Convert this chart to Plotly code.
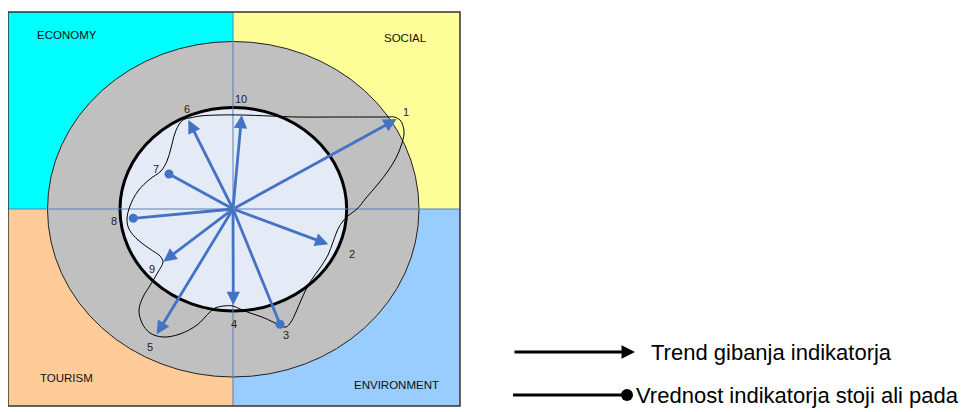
import plotly.graph_objects as go

# ---- data (diagram units: 1 unit = 1 px, origin at the diagram centre, y up) ----
indicator_ids = ["1", "2", "3", "4", "5", "6", "7", "8", "9", "10"]
indicator_x = [163.7, 95.3, 47.0, 0.3, -76.3, -44.7, -64.0, -99.7, -69.7, 8.7]
indicator_y = [90.0, -35.3, -115.3, -96.0, -125.3, 89.0, 35.0, -9.3, -52.7, 94.0]
# "arrow" = trend of indicator, "dot" = value stagnates or falls
indicator_kind = ["arrow", "arrow", "dot", "arrow", "arrow", "arrow", "dot", "dot", "arrow", "arrow"]
label_x = [172.7, 118.7, 53.0, 1.3, -83.0, -46.3, -77.3, -119.0, -80.7, 8.0]
label_y = [97.3, -45.0, -126.0, -115.3, -137.7, 99.7, 39.7, -12.0, -60.3, 110.0]

sectors = ["ECONOMY", "SOCIAL", "TOURISM", "ENVIRONMENT"]
sector_x = [-166.3, 172.7, -166.3, 163.7]
sector_y = [174.3, 170.7, -169.3, -176.0]
sector_colors = ["#00FFFF", "#FFFF99", "#FFCC99", "#99CCFF"]

# traced outline of the indicator envelope (pixel positions in the picture)
curve_px = [190, 200, 220, 241, 270, 297, 340, 387, 394, 400, 403, 404, 401, 396, 388,
            378, 366, 357, 349, 343, 338, 333, 328, 320, 310, 302, 296, 291, 286, 281,
            273, 262, 250, 240, 233, 224, 215, 209, 197, 180, 163, 150, 142, 139, 143,
            151, 158, 163, 160, 150, 138, 129, 127, 130, 138, 150, 161, 167, 171, 175,
            180, 185]
curve_py = [118, 116, 115, 115, 116, 117, 117, 117, 117, 120, 126, 134, 146, 158, 171,
            184, 198, 209, 215, 221, 229, 242, 255, 268, 282, 298, 312, 322, 327, 326,
            322, 317, 313, 309, 306, 306, 308, 313, 325, 334, 337, 333, 323, 310, 297,
            284, 272, 262, 256, 249, 240, 229, 219, 206, 191, 179, 171, 161, 148, 133,
            123, 119]

legend_texts = ["Trend gibanja indikatorja", "Vrednost indikatorja stoji ali pada"]

CX, CY = 233, 209
OFF = 8          # page body margin
W, H = 974 - OFF, 412 - OFF
curve_x = [p - CX for p in curve_px] + [curve_px[0] - CX]
curve_y = [CY - p for p in curve_py] + [CY - curve_py[0]]

ARROW_BLUE = "#4472C4"
FONT = "Liberation Sans, Arial, sans-serif"

fig = go.Figure()

# envelope curve
fig.add_trace(go.Scatter(x=curve_x, y=curve_y, mode="lines",
                         line=dict(color="black", width=1, shape="spline", smoothing=1.0),
                         hoverinfo="skip", showlegend=False))

# dot indicators (line + dot)
dot_x = [xi for xi, k in zip(indicator_x, indicator_kind) if k == "dot"]
dot_y = [yi for yi, k in zip(indicator_y, indicator_kind) if k == "dot"]
for xi, yi in zip(dot_x, dot_y):
    fig.add_trace(go.Scatter(x=[0, xi], y=[0, yi], mode="lines",
                             line=dict(color=ARROW_BLUE, width=2.8),
                             hoverinfo="skip", showlegend=False))
fig.add_trace(go.Scatter(x=dot_x, y=dot_y, mode="markers",
                         marker=dict(size=9, color=ARROW_BLUE, opacity=1, line=dict(width=0)),
                         hoverinfo="skip", showlegend=False))

annotations = []
for xi, yi, kind in zip(indicator_x, indicator_y, indicator_kind):
    if kind == "arrow":
        annotations.append(dict(x=xi, y=yi, ax=0, ay=0, xref="x", yref="y",
                                axref="x", ayref="y", text="", showarrow=True,
                                arrowhead=2, arrowsize=0.95, arrowwidth=2.8,
                                arrowcolor=ARROW_BLUE, standoff=0, startstandoff=0))

for t, lx, ly in zip(indicator_ids, label_x, label_y):
    annotations.append(dict(x=lx, y=ly, text=t, showarrow=False,
                            font=dict(family=FONT, size=11, color="#222")))

for s, sx, sy in zip(sectors, sector_x, sector_y):
    annotations.append(dict(x=sx, y=sy, text=s, showarrow=False,
                            font=dict(family=FONT, size=11.5, color="#111")))

# legend
annotations.append(dict(x=402, y=-143, ax=280, ay=-143, xref="x", yref="y",
                        axref="x", ayref="y", text="", showarrow=True,
                        arrowhead=2, arrowsize=0.9, arrowwidth=3,
                        arrowcolor="black", standoff=0))
annotations.append(dict(x=416, y=-143, text=legend_texts[0], showarrow=False,
                        xanchor="left", font=dict(family=FONT, size=22, color="black")))
annotations.append(dict(x=401, y=-186, text=legend_texts[1], showarrow=False,
                        xanchor="left", font=dict(family=FONT, size=22, color="black")))
fig.add_trace(go.Scatter(x=[280, 394], y=[-186, -186], mode="lines",
                         line=dict(color="black", width=3),
                         hoverinfo="skip", showlegend=False))
fig.add_trace(go.Scatter(x=[394], y=[-186], mode="markers",
                         marker=dict(size=12, color="black", opacity=1, line=dict(width=0)),
                         hoverinfo="skip", showlegend=False))

# background shapes
L, R, T, B = -225, 227, 197, -197
shapes = [
    dict(type="rect", x0=L, x1=0, y0=0, y1=T, fillcolor=sector_colors[0], line_width=0, layer="below"),
    dict(type="rect", x0=0, x1=R, y0=0, y1=T, fillcolor=sector_colors[1], line_width=0, layer="below"),
    dict(type="rect", x0=L, x1=0, y0=B, y1=0, fillcolor=sector_colors[2], line_width=0, layer="below"),
    dict(type="rect", x0=0, x1=R, y0=B, y1=0, fillcolor=sector_colors[3], line_width=0, layer="below"),
    dict(type="circle", x0=-185.5, x1=186, y0=-168, y1=167.5, fillcolor="#C0C0C0",
         line=dict(color="#222", width=1), layer="below"),
    dict(type="circle", x0=-113, x1=113.7, y0=-102, y1=101.5, fillcolor="#E4EBF7",
         line=dict(color="black", width=3), layer="below"),
    dict(type="line", x0=0, x1=0, y0=B, y1=T, line=dict(color="#5A7DB8", width=1), layer="below"),
    dict(type="line", x0=L, x1=R, y0=0, y1=0, line=dict(color="#5A7DB8", width=1), layer="below"),
    dict(type="rect", x0=L, x1=R, y0=B, y1=T, line=dict(color="#333", width=1.5), layer="below"),
]

fig.update_layout(
    width=W, height=H, margin=dict(l=0, r=0, t=0, b=0),
    paper_bgcolor="white", plot_bgcolor="white",
    xaxis=dict(range=[OFF - CX, OFF - CX + W], visible=False, showgrid=False, zeroline=False, fixedrange=True),
    yaxis=dict(range=[CY - OFF - H, CY - OFF], visible=False, showgrid=False, zeroline=False, fixedrange=True),
    shapes=shapes, annotations=annotations, showlegend=False,
)

fig.write_html("out.html")
